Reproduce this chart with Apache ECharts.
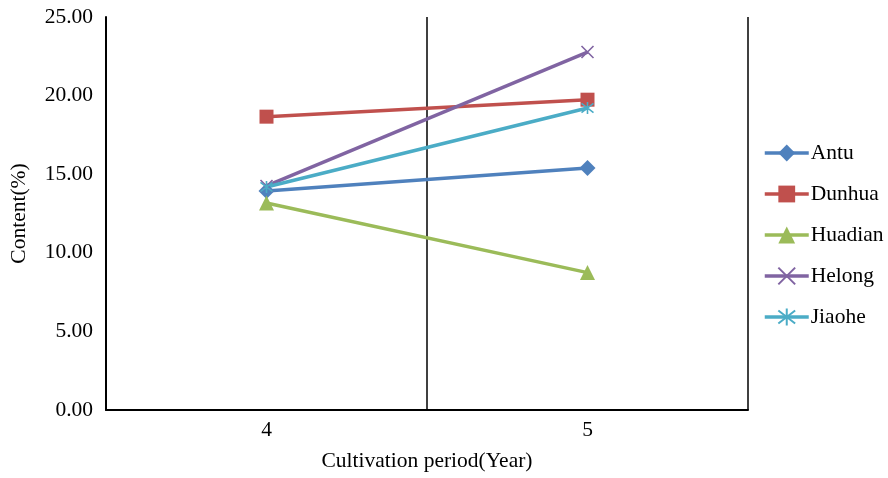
<!DOCTYPE html>
<html>
<head>
<meta charset="utf-8">
<script src="https://cdn.jsdelivr.net/npm/echarts@6/dist/echarts.min.js"></script>
<style>html,body{margin:0;padding:0;background:#fff;}#c{width:888px;height:478px;}</style>
</head>
<body>
<div id="c"></div>
<script>
var categories = ['4', '5'];
var antu = [13.93, 15.39];
var dunhua = [18.66, 19.74];
var huadian = [13.17, 8.74];
var helong = [14.25, 22.77];
var jiaohe = [14.19, 19.21];
var yTicks = [0, 5, 10, 15, 20, 25];

var font = 'Liberation Serif';
var fs = 21.5;
var xPath = 'path://M0 0L10 10M10 0L0 10';
var starPath = 'path://M0 0L10 10M10 0L0 10M5 -1.5L5 11.5';

function mk(name, data, color, symbol, size, stroke) {
  return {
    name: name, type: 'line', data: data,
    symbol: symbol, symbolSize: size,
    lineStyle: { color: color, width: 3.5 },
    itemStyle: stroke ? { color: color, borderColor: color, borderWidth: 1.6 } : { color: color },
    emphasis: { disabled: true }
  };
}

var chart = echarts.init(document.getElementById('c'));
chart.setOption({
  animation: false,
  textStyle: { fontFamily: font },
  grid: { left: 105, right: 140, top: 17, bottom: 68 },
  legend: {
    orient: 'vertical', left: 758, top: 137,
    itemWidth: 44, itemHeight: 21, itemGap: 19,
    lineStyle: { width: 3.5 },
    textStyle: { fontFamily: font, fontSize: fs, color: '#000', lineHeight: 22, padding: [0,0,0,-3] },
    data: ['Antu', 'Dunhua', 'Huadian', 'Helong', 'Jiaohe']
  },
  xAxis: {
    type: 'category', data: categories, boundaryGap: true,
    name: 'Cultivation period(Year)', nameLocation: 'middle', nameGap: 40,
    nameTextStyle: { fontFamily: font, fontSize: fs, color: '#000' },
    axisLine: { lineStyle: { color: '#000', width: 2 } },
    axisTick: { show: false },
    axisLabel: { fontFamily: font, fontSize: fs, color: '#000', margin: 9 },
    splitLine: { show: true, lineStyle: { color: '#000', width: 1.5 } }
  },
  yAxis: {
    type: 'value', min: yTicks[0], max: yTicks[yTicks.length - 1], interval: 5,
    name: 'Content(%)', nameLocation: 'middle', nameGap: 76,
    nameTextStyle: { fontFamily: font, fontSize: fs, color: '#000' },
    axisLine: { show: true, lineStyle: { color: '#000', width: 2 } },
    axisTick: { show: false },
    splitLine: { show: false },
    axisLabel: { fontFamily: font, fontSize: fs, color: '#000', margin: 13,
      formatter: function (v) { return v.toFixed(2); } }
  },
  series: [
    mk('Antu', antu, '#4F81BD', 'diamond', 16, false),
    mk('Dunhua', dunhua, '#C0504D', 'rect', 14, false),
    mk('Huadian', huadian, '#9BBB59', 'triangle', 15, false),
    mk('Helong', helong, '#8064A2', xPath, 12, true),
    mk('Jiaohe', jiaohe, '#4BACC6', starPath, 12, true)
  ]
});
</script>
</body>
</html>
